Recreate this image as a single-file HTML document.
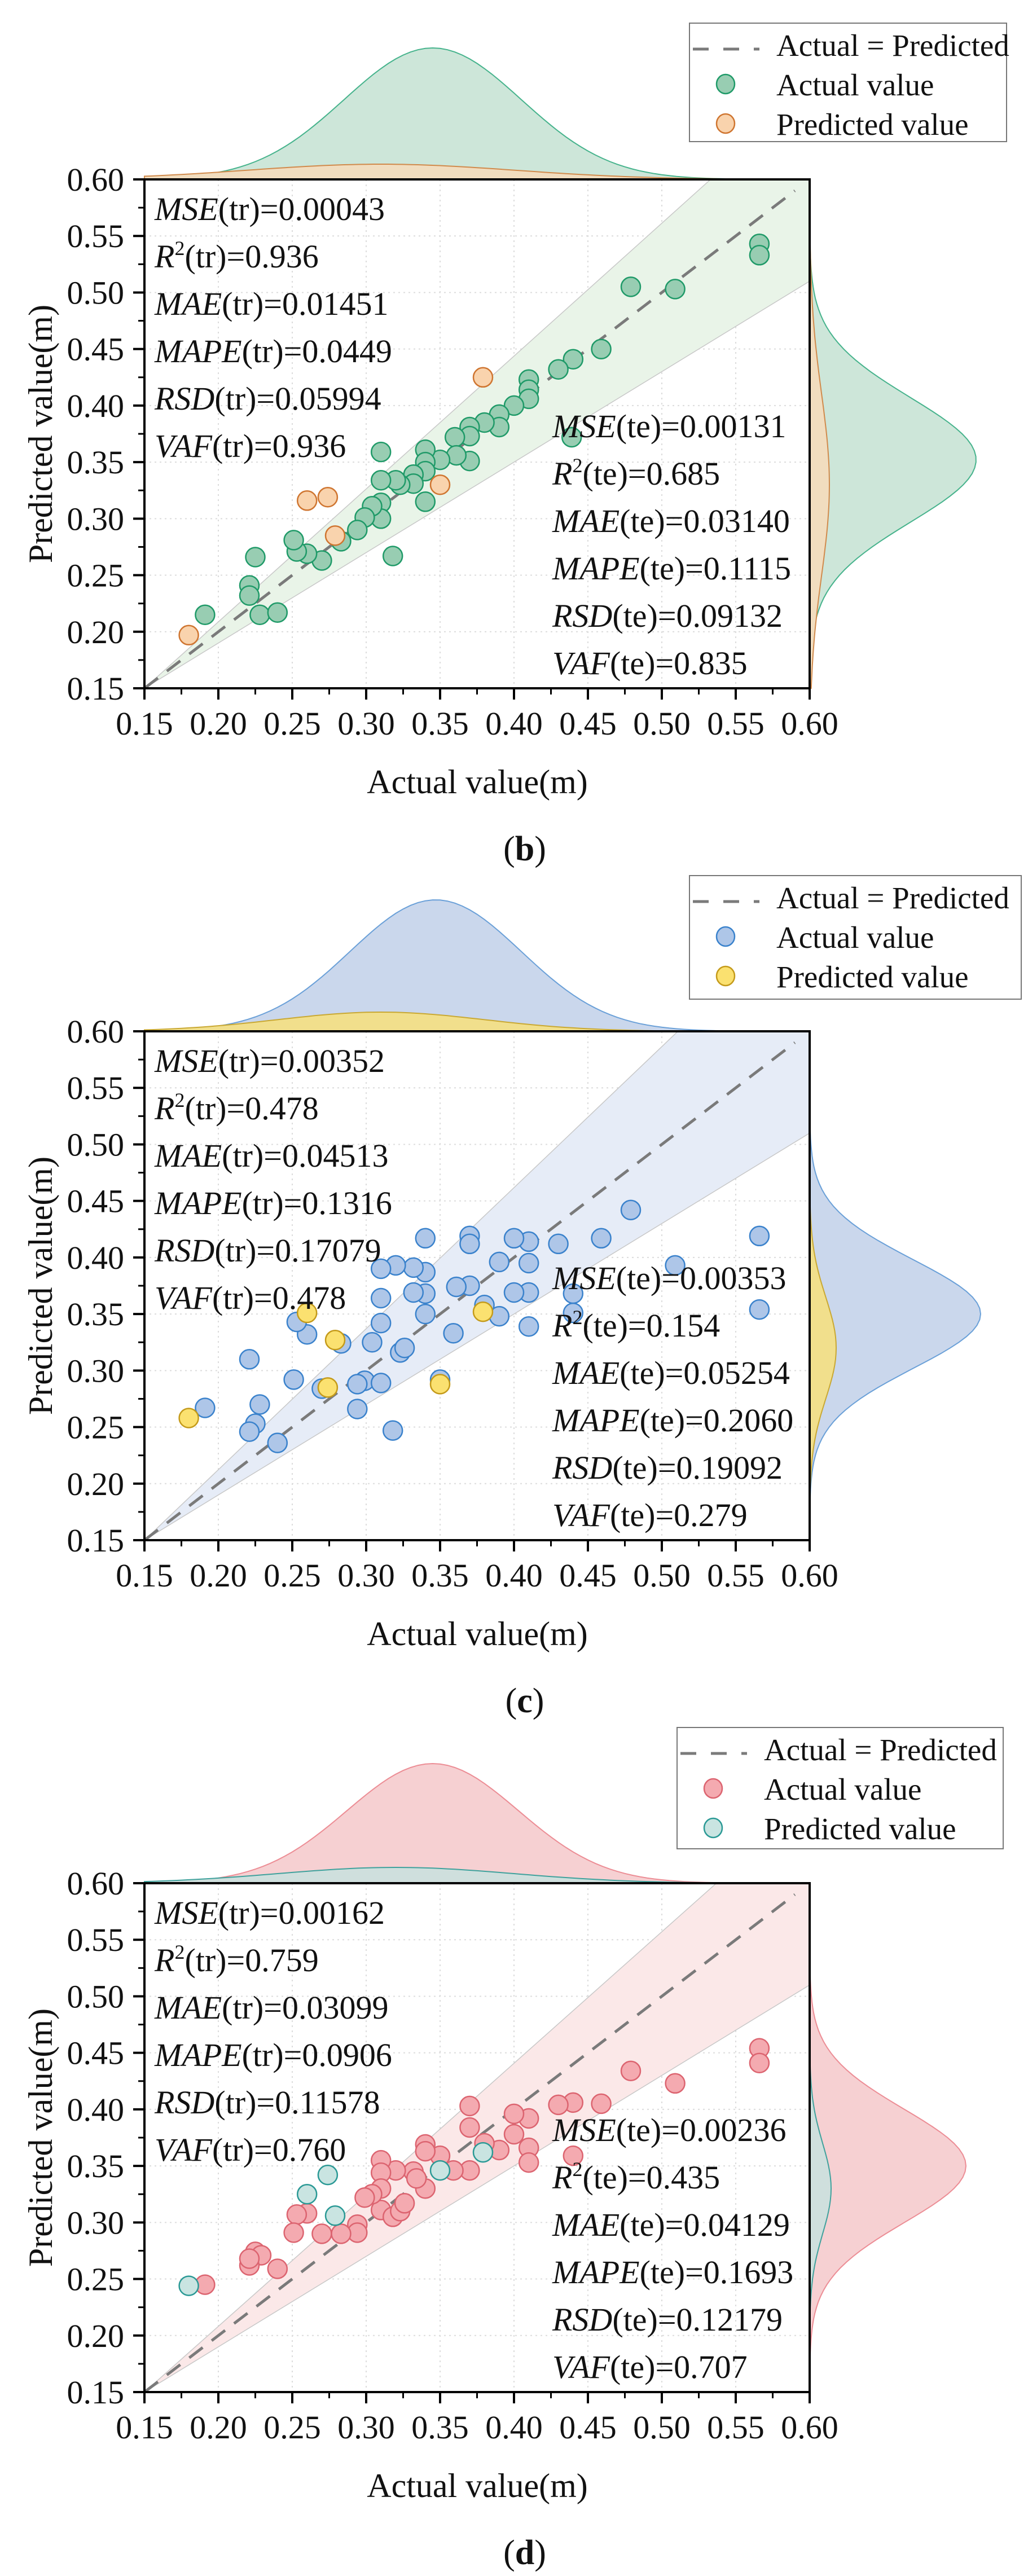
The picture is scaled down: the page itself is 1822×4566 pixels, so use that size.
<!DOCTYPE html>
<html><head><meta charset="utf-8">
<style>
html,body{margin:0;padding:0;background:#fff;}
svg{display:block;}
text{font-family:"Liberation Serif","Times New Roman",serif;fill:#111;}
</style></head>
<body>
<svg id="fig" xmlns="http://www.w3.org/2000/svg" width="1822" height="4566" viewBox="0 0 1822 4566"></svg>
<script>
// ---------- data ----------
const ticks = [0.15,0.20,0.25,0.30,0.35,0.40,0.45,0.50,0.55,0.60];
const tickLabels = ["0.15","0.20","0.25","0.30","0.35","0.40","0.45","0.50","0.55","0.60"];

// panel b
const bActualX = [.566,.566,.479,.509,.459,.440,.430,.410,.410,.410,.400,.390,.390,.380,.370,.370,.370,.360,.361,.350,.340,.340,.340,.340,.332,.332,.323,.320,.310,.310,.310,.310,.304,.299,.294,.283,.318,.270,.260,.253,.251,.225,.221,.221,.228,.240,.191,.439];
const bActualY = [.543,.533,.505,.503,.450,.441,.432,.423,.414,.406,.400,.392,.381,.385,.381,.373,.351,.372,.356,.352,.361,.350,.342,.315,.339,.331,.330,.334,.359,.334,.314,.300,.311,.301,.290,.280,.267,.263,.269,.271,.281,.266,.241,.232,.215,.217,.215,.372];
const bPredX = [.180,.260,.274,.279,.350,.379];
const bPredY = [.197,.316,.319,.285,.330,.425];
const bTr = ["0.00043","0.936","0.01451","0.0449","0.05994","0.936"];
const bTe = ["0.00131","0.685","0.03140","0.1115","0.09132","0.835"];

// panel c
const cActualX = [.566,.566,.479,.509,.459,.440,.440,.430,.410,.410,.410,.410,.400,.400,.390,.390,.380,.370,.370,.370,.361,.359,.340,.340,.340,.340,.332,.332,.320,.310,.310,.310,.323,.326,.304,.299,.294,.294,.310,.318,.283,.270,.260,.253,.251,.221,.228,.225,.221,.240,.191,.350];
const cActualY = [.419,.354,.442,.393,.417,.368,.351,.412,.414,.395,.369,.339,.417,.369,.396,.348,.358,.419,.412,.375,.374,.333,.417,.387,.368,.350,.391,.369,.393,.390,.364,.342,.316,.320,.325,.291,.288,.266,.289,.247,.324,.284,.332,.343,.292,.310,.270,.253,.246,.236,.267,.292];
const cPredX = [.180,.260,.279,.274,.350,.379];
const cPredY = [.258,.351,.327,.285,.288,.352];
const cTr = ["0.00352","0.478","0.04513","0.1316","0.17079","0.478"];
const cTe = ["0.00353","0.154","0.05254","0.2060","0.19092","0.279"];

// panel d
const dActualX = [.566,.566,.479,.509,.459,.440,.430,.440,.410,.410,.410,.400,.400,.390,.380,.370,.370,.370,.359,.350,.340,.340,.340,.332,.334,.320,.310,.310,.310,.310,.304,.299,.294,.294,.318,.323,.326,.283,.270,.260,.253,.251,.225,.229,.221,.221,.240,.191];
const dActualY = [.454,.441,.434,.423,.405,.406,.404,.359,.392,.366,.353,.396,.378,.364,.370,.403,.384,.346,.346,.359,.369,.363,.330,.345,.339,.346,.355,.344,.330,.311,.325,.322,.298,.291,.305,.310,.317,.290,.290,.308,.307,.291,.274,.271,.262,.268,.259,.245];
const dPredX = [.180,.260,.274,.279,.350,.379];
const dPredY = [.244,.325,.342,.306,.346,.362];
const dTr = ["0.00162","0.759","0.03099","0.0906","0.11578","0.760"];
const dTe = ["0.00236","0.435","0.04129","0.1693","0.12179","0.707"];

// density (normal curve) parameters: [mean, sd]
const bTopA=[.345,.060], bTopP=[.31,.09], bRightA=[.352,.055], bRightP=[.33,.08];
const cTopA=[.347,.058], cTopP=[.31,.07], cRightA=[.35,.048], cRightP=[.32,.045];
const dTopA=[.345,.058], dTopP=[.32,.08], dRightA=[.35,.05], dRightP=[.33,.04];

// ---------- drawing ----------
const NS="http://www.w3.org/2000/svg";
const svg=document.getElementById('fig');
function mk(tag,attrs,parent){const e=document.createElementNS(NS,tag);for(const k in attrs)e.setAttribute(k,attrs[k]);(parent||svg).appendChild(e);return e;}

const PX0=256, PX1=1435, PH=902;

function panel(cfg){
  const top=cfg.top, bot=top+PH;
  const xs=v=>PX0+(v-0.15)/0.45*(PX1-PX0);
  const ys=v=>top+(0.60-v)/0.45*PH;
  const g=mk('g',{});
  
  

  // top density
  function topDens(p,h,fill,stroke,nm){
    let d=`M${xs(0.15)},${top}`;
    for(let v=0.15;v<=0.6001;v+=0.005){d+=` L${xs(v).toFixed(1)},${(top-h*Math.exp(-((v-p[0])**2)/(2*p[1]*p[1]))).toFixed(1)}`;}
    d+=` L${xs(0.6)},${top} Z`;
    const e=mk('path',{d:d,fill:fill,stroke:stroke,'stroke-width':2},g);
    
    
  }
  function rightDens(p,h,fill,stroke,nm){
    let d=`M${PX1},${ys(0.6)}`;
    for(let v=0.6;v>=0.1499;v-=0.005){d+=` L${(PX1+h*Math.exp(-((v-p[0])**2)/(2*p[1]*p[1]))).toFixed(1)},${ys(v).toFixed(1)}`;}
    d+=` L${PX1},${ys(0.15)} Z`;
    const e=mk('path',{d:d,fill:fill,stroke:stroke,'stroke-width':2},g);
    
    
  }
  topDens(cfg.topA,cfg.hTA,cfg.dA,cfg.sA,'top-density-actual');
  topDens(cfg.topP,cfg.hTP,cfg.dP,cfg.sP,'top-density-predicted');
  rightDens(cfg.rightA,cfg.hRA,cfg.dA,cfg.sA,'right-density-actual');
  rightDens(cfg.rightP,cfg.hRP,cfg.dP,cfg.sP,'right-density-predicted');

  // plot bg
  mk('rect',{x:PX0,y:top,width:PX1-PX0,height:PH,fill:'#fff'},g);
  // grid
  for(let i=1;i<ticks.length-1;i++){
    const gx=mk('line',{x1:xs(ticks[i]),x2:xs(ticks[i]),y1:top,y2:bot,stroke:'#dcdcdc','stroke-width':2,'stroke-dasharray':'3 6'},g);
    
    
    const gy=mk('line',{x1:PX0,x2:PX1,y1:ys(ticks[i]),y2:ys(ticks[i]),stroke:'#dcdcdc','stroke-width':2,'stroke-dasharray':'3 6'},g);
    
    
  }
  // band
  const band=mk('polygon',{points:`${xs(0.15)},${ys(0.15)} ${xs(0.15+0.45/cfg.up)},${ys(0.6)} ${xs(0.6)},${ys(0.6)} ${xs(0.6)},${ys(0.15+0.45*cfg.lo)}`,fill:cfg.band,stroke:'#c8c8c8','stroke-width':1.5},g);
  
  
  // diagonal
  const dg=mk('line',{x1:xs(0.15),y1:ys(0.15),x2:xs(0.59),y2:ys(0.59),stroke:'#7a7a7a','stroke-width':5,'stroke-dasharray':'30 20'},g);
  
  

  // points
  function pts(X,Y,fill,stroke,nm){
    for(let i=0;i<X.length;i++){
      const c=mk('circle',{cx:xs(X[i]).toFixed(1),cy:ys(Y[i]).toFixed(1),r:17,fill:fill,stroke:stroke,'stroke-width':2.5},g);
      
      
    }
  }
  pts(cfg.aX,cfg.aY,cfg.pA,cfg.eA,'actual-point');
  pts(cfg.pX,cfg.pY,cfg.pP,cfg.eP,'predicted-point');

  // stats text
  const names=['MSE','R','MAE','MAPE','RSD','VAF'];
  function stats(vals,tag,x,y0,nm){
    for(let i=0;i<6;i++){
      const t=mk('text',{x:x,y:y0+i*84,'font-size':58},g);
      
      
      const a=mk('tspan',{'font-style':'italic'},t);a.textContent=names[i];
      if(i===1){const s=mk('tspan',{'font-size':36,dy:-22},t);s.textContent='2';const r=mk('tspan',{dy:22},t);r.textContent='('+tag+')='+vals[i];}
      else{const r=mk('tspan',{},t);r.textContent='('+tag+')='+vals[i];}
    }
  }
  stats(cfg.tr,'tr',274,top+72,'train-stat');
  stats(cfg.te,'te',979,top+457,'test-stat');

  // frame
  mk('rect',{x:PX0,y:top,width:PX1-PX0,height:PH,fill:'none',stroke:'#000','stroke-width':4},g);
  // ticks
  for(let i=0;i<ticks.length;i++){
    const v=ticks[i];
    mk('line',{x1:xs(v),x2:xs(v),y1:bot,y2:bot+20,stroke:'#000','stroke-width':4},g);
    mk('line',{x1:PX0-20,x2:PX0,y1:ys(v),y2:ys(v),stroke:'#000','stroke-width':4},g);
    if(i<ticks.length-1){
      const m=v+0.025;
      mk('line',{x1:xs(m),x2:xs(m),y1:bot,y2:bot+11,stroke:'#000','stroke-width':3},g);
      mk('line',{x1:PX0-11,x2:PX0,y1:ys(m),y2:ys(m),stroke:'#000','stroke-width':3},g);
    }
    const tx=mk('text',{x:xs(v),y:bot+82,'font-size':58,'text-anchor':'middle'},g);
    tx.textContent=tickLabels[i];
    
    
    const ty=mk('text',{x:220,y:ys(v)+20,'font-size':58,'text-anchor':'end'},g);
    ty.textContent=tickLabels[i];
    
    
  }
  const xt=mk('text',{x:846,y:bot+186,'font-size':60,'text-anchor':'middle'},g);
  xt.textContent='Actual value(m)';
  
  
  const yt=mk('text',{x:0,y:0,'font-size':60,'text-anchor':'middle',transform:`translate(92,${top+PH/2}) rotate(-90)`},g);
  yt.textContent='Predicted value(m)';
  
  
  const pl=mk('text',{x:930,y:top+1207,'font-size':62,'text-anchor':'middle'},g);
  const p1=mk('tspan',{},pl);p1.textContent='(';
  const p2=mk('tspan',{'font-weight':'bold'},pl);p2.textContent=cfg.label;
  const p3=mk('tspan',{},pl);p3.textContent=')';
  
  

  // legend
  const L=cfg.leg;
  const lg=mk('g',{},g);
  
  
  mk('rect',{x:L[0],y:L[1],width:L[2],height:L[3],fill:'#fff',stroke:'#777','stroke-width':2},lg);
  mk('line',{x1:L[0]+6,x2:L[0]+124,y1:L[1]+46,y2:L[1]+46,stroke:'#7a7a7a','stroke-width':5,'stroke-dasharray':'28 26'},lg);
  mk('ellipse',{cx:L[0]+64,cy:L[1]+108,rx:16,ry:17,fill:cfg.pA,stroke:cfg.eA,'stroke-width':2.5},lg);
  mk('ellipse',{cx:L[0]+64,cy:L[1]+178,rx:16,ry:17,fill:cfg.pP,stroke:cfg.eP,'stroke-width':2.5},lg);
  const lab=['Actual = Predicted','Actual value','Predicted value'];
  for(let i=0;i<3;i++){
    const t=mk('text',{x:L[0]+154,y:L[1]+58+i*70,'font-size':55},lg);
    t.textContent=lab[i];
    
    
  }
}

panel({name:'panel-b',label:'b',top:318,aX:bActualX,aY:bActualY,pX:bPredX,pY:bPredY,tr:bTr,te:bTe,
  topA:bTopA,topP:bTopP,rightA:bRightA,rightP:bRightP,hTA:233,hTP:27,hRA:295,hRP:35,
  dA:'#cde6d9',sA:'#46b38c',dP:'#f1ddbf',sP:'#d08a4c',band:'#e9f4e8',up:1.175,lo:0.80,
  pA:'#98cdb2',eA:'#1f9a68',pP:'#f9d3ad',eP:'#cf7530',leg:[1222,41,562,210]});
panel({name:'panel-c',label:'c',top:1828,aX:cActualX,aY:cActualY,pX:cPredX,pY:cPredY,tr:cTr,te:cTe,
  topA:cTopA,topP:cTopP,rightA:cRightA,rightP:cRightP,hTA:233,hTP:34,hRA:303,hRP:47,
  dA:'#cad7ec',sA:'#6aa0d8',dP:'#f1df8c',sP:'#c9a832',band:'#e6ecf7',up:1.247,lo:0.80,
  pA:'#aec6e8',eA:'#3a82cc',pP:'#fbe170',eP:'#c49a1a',leg:[1222,1552,588,219]});
panel({name:'panel-d',label:'d',top:3338,aX:dActualX,aY:dActualY,pX:dPredX,pY:dPredY,tr:dTr,te:dTe,
  topA:dTopA,topP:dTopP,rightA:dRightA,rightP:dRightP,hTA:212,hTP:28,hRA:277,hRP:38,
  dA:'#f6d0d2',sA:'#ec8d95',dP:'#cfdfdd',sP:'#3fa19c',band:'#fbe8e8',up:1.163,lo:0.80,
  pA:'#f4aab0',eA:'#dc6470',pP:'#c9e4e1',eP:'#2a9995',leg:[1200,3062,578,215]});
</script>
</body></html>
